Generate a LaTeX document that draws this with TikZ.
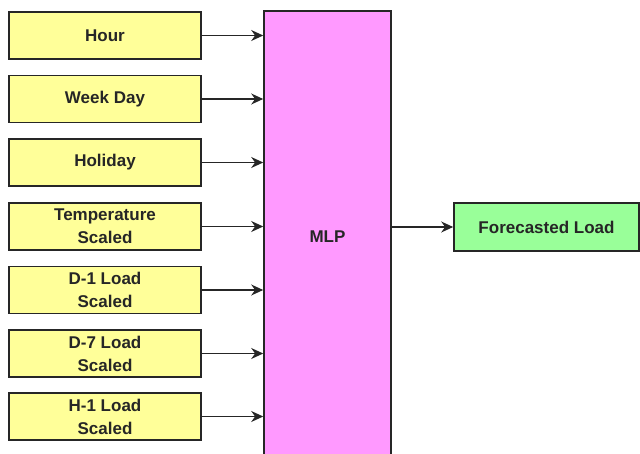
\documentclass[tikz,border=0pt]{standalone}
\usepackage{fontspec}
\setmainfont{Liberation Sans}
\usetikzlibrary{arrows.meta,positioning}

\definecolor{inyellow}{RGB}{255,255,153}
\definecolor{mlppink}{RGB}{255,153,255}
\definecolor{outgreen}{RGB}{153,255,153}

\begin{document}
\begin{tikzpicture}[x=1pt,y=-1pt,
  every node/.style={font=\fontsize{17}{23}\selectfont\bfseries,text=black!85},
  inp/.style={draw=black!85,fill=inyellow,line width=1.6pt,align=center,inner sep=0pt,minimum width=192pt,minimum height=47pt},
  net/.style={draw=black!85,fill=mlppink,line width=1.6pt,inner sep=0pt,minimum width=127pt,minimum height=452pt},
  res/.style={draw=black!85,fill=outgreen,line width=1.6pt,inner sep=0pt,minimum width=185pt,minimum height=48pt},
  ar/.style={-{Stealth[length=12pt,width=11pt]},black!85,line width=1.3pt}]
\useasboundingbox (0,0) rectangle (640,453);
\node[inp] (in1) at (105,35.5) {Hour};
\node[inp] (in2) at (105,99) {Week Day};
\node[inp] (in3) at (105,162.5) {Holiday};
\node[inp] (in4) at (105,226.5) {Temperature\\Scaled};
\node[inp] (in5) at (105,290) {D-1 Load\\Scaled};
\node[inp] (in6) at (105,353.5) {D-7 Load\\Scaled};
\node[inp] (in7) at (105,416.5) {H-1 Load\\Scaled};
\node[net] (mlp) at (327.5,237) {MLP};
\node[res] (out) at (546.5,227) {Forecasted Load};
\foreach \x in {in1,in2,in3,in4,in5,in6,in7} \draw[ar] (\x.east) -- (\x.east -| mlp.west);
\draw[ar] (mlp.east |- out.west) -- (out.west);
\end{tikzpicture}
\end{document}
